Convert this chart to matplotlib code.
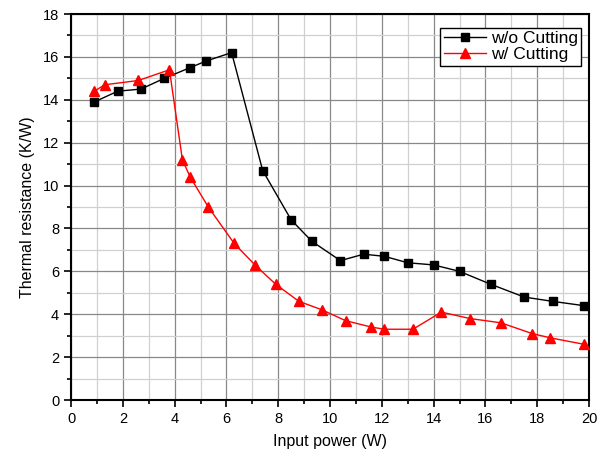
import matplotlib.pyplot as plt
from matplotlib.ticker import MultipleLocator

plt.rcParams['font.family'] = ['Liberation Sans', 'DejaVu Sans']

# --- dados ---
x_wo = [0.9, 1.8, 2.7, 3.6, 4.6, 5.2, 6.2, 7.4, 8.5, 9.3, 10.4, 11.3, 12.1, 13.0, 14.0, 15.0, 16.2, 17.5, 18.6, 19.8]
y_wo = [13.9, 14.4, 14.5, 15.0, 15.5, 15.8, 16.2, 10.7, 8.4, 7.4, 6.5, 6.8, 6.7, 6.4, 6.3, 6.0, 5.4, 4.8, 4.6, 4.4]

x_w = [0.9, 1.3, 2.6, 3.8, 4.3, 4.6, 5.3, 6.3, 7.1, 7.9, 8.8, 9.7, 10.6, 11.6, 12.1, 13.2, 14.3, 15.4, 16.6, 17.8, 18.5, 19.8]
y_w = [14.4, 14.7, 14.9, 15.4, 11.2, 10.4, 9.0, 7.3, 6.3, 5.4, 4.6, 4.2, 3.7, 3.4, 3.3, 3.3, 4.1, 3.8, 3.6, 3.1, 2.9, 2.6]

labels = ['w/o Cutting', 'w/ Cutting']

fig = plt.figure(figsize=(6.05, 4.61), dpi=100)
ax = fig.add_axes([0.1174, 0.1323, 0.8562, 0.8373])

ax.plot(x_wo, y_wo, color='black', lw=1.0, marker='s', ms=6, label=labels[0], zorder=3)
ax.plot(x_w, y_w, color='red', lw=1.0, marker='^', ms=7.5, label=labels[1], zorder=3)

ax.set_xlim(0, 20)
ax.set_ylim(0, 18)
ax.xaxis.set_major_locator(MultipleLocator(2))
ax.xaxis.set_minor_locator(MultipleLocator(1))
ax.yaxis.set_major_locator(MultipleLocator(2))
ax.yaxis.set_minor_locator(MultipleLocator(1))

ax.grid(True, which='major', color='#888888', lw=0.9)
ax.grid(True, which='minor', color='#d0d0d0', lw=0.9)
ax.set_axisbelow(True)

for s in ax.spines.values():
    s.set_linewidth(1.5)
ax.tick_params(which='both', direction='out', width=1.2, labelsize=10.5, top=False, right=False)
ax.tick_params(which='major', length=5)
ax.tick_params(which='minor', length=3)

ax.set_xlabel('Input power (W)', fontsize=11.5, labelpad=6)
ax.set_ylabel('Thermal resistance (K/W)', fontsize=11.5, labelpad=6)

leg = ax.legend(loc='upper right', bbox_to_anchor=(0.985, 0.965), fontsize=12.5, fancybox=False,
                edgecolor='black', framealpha=1, borderaxespad=0, handlelength=2.4,
                handletextpad=0.3, labelspacing=0.05, borderpad=0.2)
leg.get_frame().set_linewidth(1.0)

fig.savefig('out.png', dpi=100)
